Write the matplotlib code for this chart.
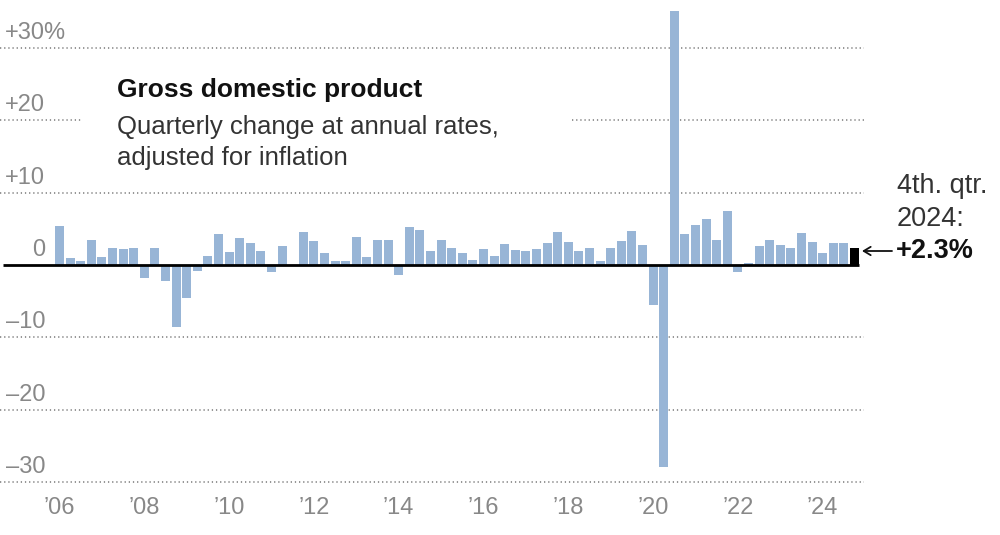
import matplotlib
matplotlib.use('Agg')
import matplotlib.pyplot as plt

# quarterly GDP change, annual rate, 2006 Q1 .. 2024 Q4
years = list(range(2006, 2025))
gdp = [
    5.4, 1.0, 0.5, 3.4,     # 2006
    1.1, 2.4, 2.2, 2.4,     # 2007
    -1.8, 2.3, -2.2, -8.6,  # 2008
    -4.5, -0.8, 1.3, 4.3,   # 2009
    1.8, 3.8, 3.0, 2.0,     # 2010
    -1.0, 2.6, -0.1, 4.6,   # 2011
    3.3, 1.7, 0.5, 0.5,     # 2012
    3.9, 1.1, 3.5, 3.5,     # 2013
    -1.4, 5.2, 4.9, 1.9,    # 2014
    3.5, 2.4, 1.6, 0.7,     # 2015
    2.2, 1.2, 2.9, 2.1,     # 2016
    1.9, 2.2, 3.1, 4.6,     # 2017
    3.2, 2.0, 2.4, 0.6,     # 2018
    2.4, 3.3, 4.7, 2.7,     # 2019
    -5.6, -28.0, 35.2, 4.3, # 2020
    5.6, 6.4, 3.5, 7.4,     # 2021
    -1.0, 0.3, 2.6, 3.4,    # 2022
    2.7, 2.4, 4.4, 3.2,     # 2023
    1.6, 3.0, 3.0, 2.3,     # 2024
]
grid_values = [30, 20, 10, 0, -10, -20, -30]
grid_labels = ['+30%', '+20', '+10', '0', '\u201310', '\u201320', '\u201330']
year_ticks = [2006, 2008, 2010, 2012, 2014, 2016, 2018, 2020, 2022, 2024]

plt.rcParams['font.family'] = ['Liberation Sans', 'DejaVu Sans']

W, H = 1000, 535
fig = plt.figure(figsize=(W / 100, H / 100), dpi=100)
ax = fig.add_axes([0, 0, 1, 1])
ax.axis('off')

# pixel layout: first bar centre at 59.5px, 10.6px per quarter, zero at 265px, 7.23px per point
step, x0 = 10.6, 59.5
zero_px, unit = 265, 7.23
ax.set_xlim(-x0 / step, (W - x0) / step)
ax.set_ylim(-(H - zero_px) / unit, zero_px / unit)

def px(x):
    return (x - x0) / step

xs = list(range(len(gdp)))
colors = ['#98b5d6'] * (len(gdp) - 1) + ['#000000']
ax.bar(xs, gdp, width=0.86, color=colors, zorder=3)

grid_style = dict(color='#8c8c8c', linewidth=1.3, linestyle=(0, (0.7, 1.6)), zorder=1)
label_style = dict(xycoords=('figure fraction', 'data'), xytext=(0, 6.5),
                   textcoords='offset points', va='baseline', fontsize=17, color='#888888')
for v, lab in zip(grid_values, grid_labels):
    if v == 0:
        ax.hlines(0, px(3), px(859), color='black', linewidth=2.0, zorder=4)
    elif v == 20:
        ax.hlines(v, px(0), px(83), **grid_style)
        ax.hlines(v, px(572), px(864), **grid_style)
    else:
        ax.hlines(v, px(0), px(864), **grid_style)
    if lab.endswith('%'):
        ax.annotate(lab, xy=(5 / W, v), ha='left', **label_style)
    else:
        ax.annotate(lab, xy=(45 / W, v), ha='right', **label_style)

for y in year_ticks:
    i = (y - 2006) * 4
    ax.annotate("\u2019" + str(y)[2:], xy=(i, 1 - 514 / H), xycoords=('data', 'figure fraction'),
                ha='center', va='baseline', fontsize=17, color='#888888')

fig.text(117 / W, 1 - 97 / H, 'Gross domestic product', fontsize=19,
         fontweight='bold', color='#111111', va='baseline')
fig.text(117 / W, 1 - 134 / H, 'Quarterly change at annual rates,', fontsize=18.5,
         color='#333333', va='baseline')
fig.text(117 / W, 1 - 165 / H, 'adjusted for inflation', fontsize=18.5,
         color='#333333', va='baseline')

fig.text(897 / W, 1 - 193 / H, '4th. qtr.', fontsize=19.5, color='#333333', va='baseline')
fig.text(897 / W, 1 - 226 / H, '2024:', fontsize=19.5, color='#333333', va='baseline')
fig.text(896 / W, 1 - 258 / H, '+2.3%', fontsize=19.5, fontweight='bold', color='#111111',
         va='baseline')
ax.annotate('', xy=(862 / W, 1 - 251 / H), xytext=(892 / W, 1 - 251 / H),
            xycoords='figure fraction', textcoords='figure fraction',
            arrowprops=dict(arrowstyle='->,head_length=0.5,head_width=0.3',
                            lw=1.3, color='#111111', shrinkA=0, shrinkB=0))

fig.savefig('out.png', dpi=100)
